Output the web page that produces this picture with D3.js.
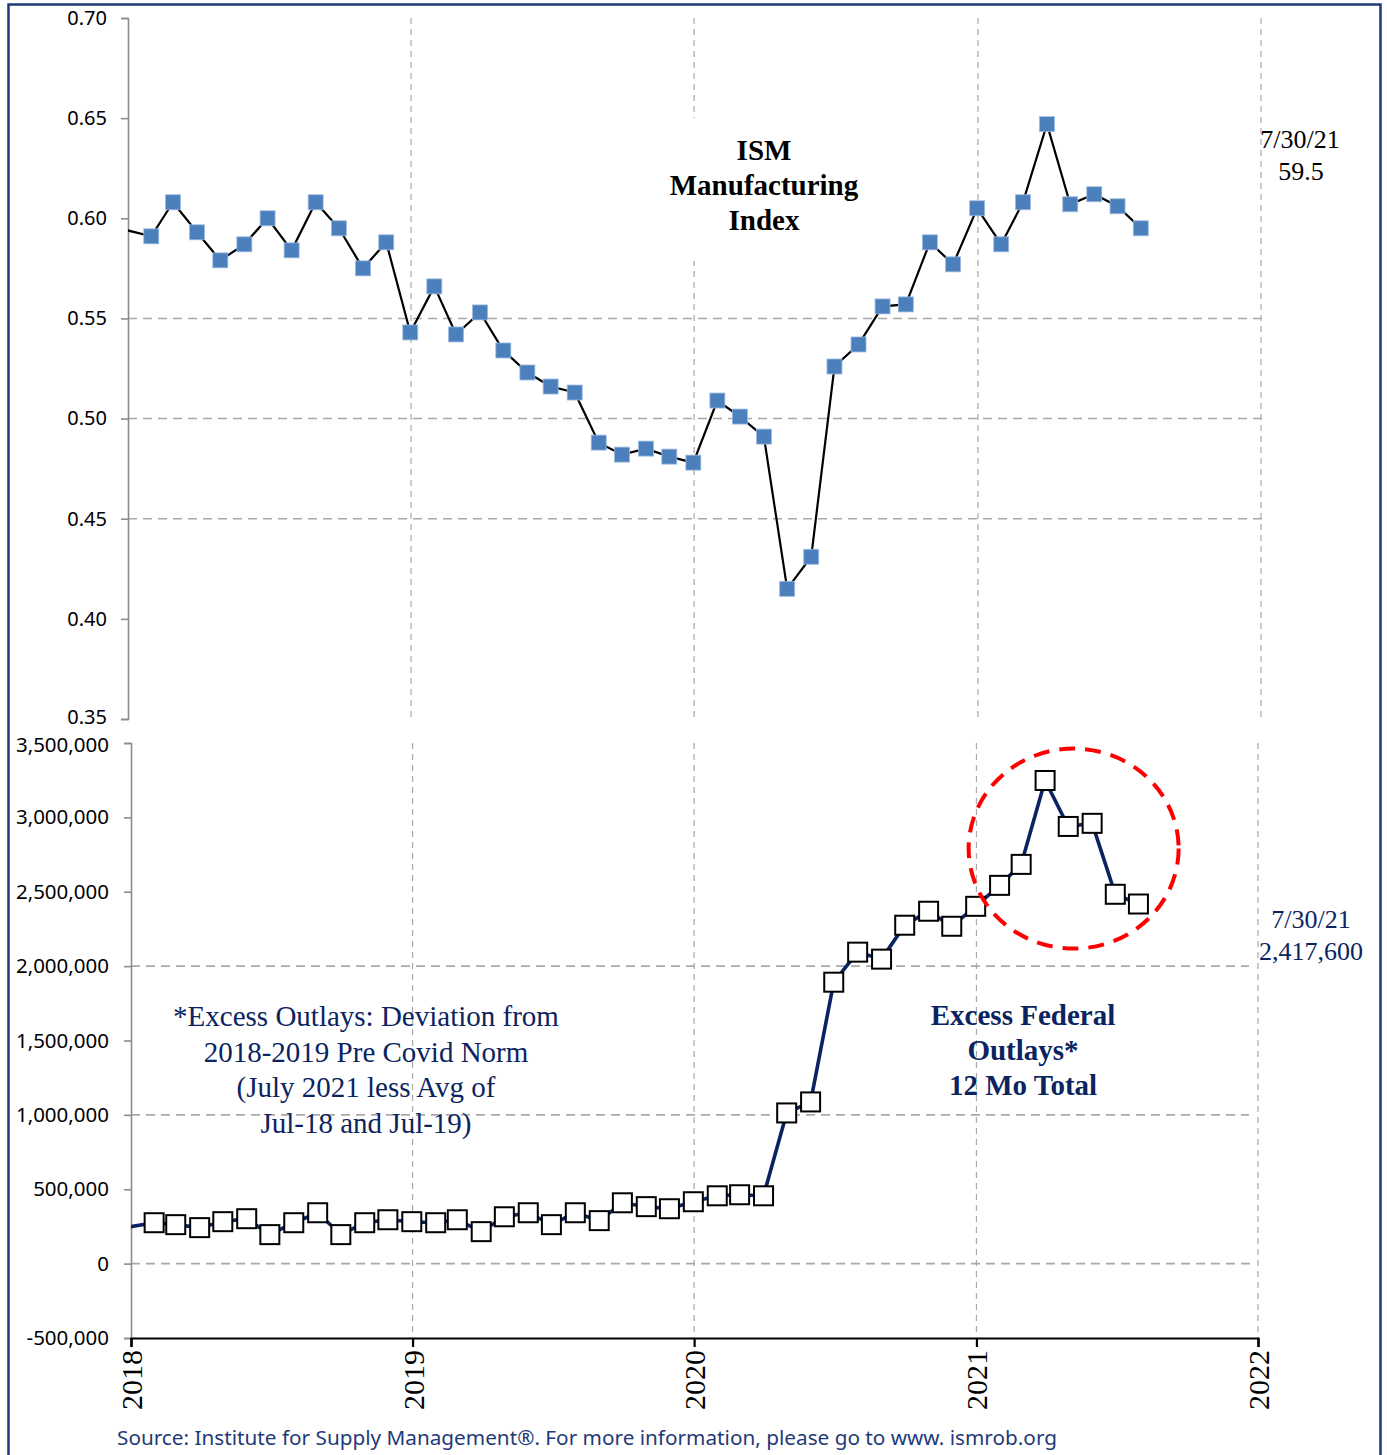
<!DOCTYPE html>
<html>
<head>
<meta charset="utf-8">
<script src="https://cdn.jsdelivr.net/npm/d3@7"></script>
<style>
  html, body { margin: 0; padding: 0; background: #ffffff; }
  svg { display: block; }
</style>
</head>
<body>
<svg id="chart" width="1387" height="1455"></svg>
<script>
// Month-end observation dates (Dec 2017 point only anchors the start of each line)
const months = [
  "2017-12-31",
  "2018-01-31","2018-02-28","2018-03-31","2018-04-30","2018-05-31","2018-06-30",
  "2018-07-31","2018-08-31","2018-09-30","2018-10-31","2018-11-30","2018-12-31",
  "2019-01-31","2019-02-28","2019-03-31","2019-04-30","2019-05-31","2019-06-30",
  "2019-07-31","2019-08-31","2019-09-30","2019-10-31","2019-11-30","2019-12-31",
  "2020-01-31","2020-02-29","2020-03-31","2020-04-30","2020-05-31","2020-06-30",
  "2020-07-31","2020-08-31","2020-09-30","2020-10-31","2020-11-30","2020-12-31",
  "2021-01-31","2021-02-28","2021-03-31","2021-04-30","2021-05-31","2021-06-30",
  "2021-07-30"
];

// ISM Manufacturing Index (as a fraction)
const ismIndex = [
  0.594,
  0.591, 0.608, 0.593, 0.579, 0.587, 0.600, 0.584, 0.608, 0.595, 0.575, 0.588, 0.543,
  0.566, 0.542, 0.553, 0.534, 0.523, 0.516, 0.513, 0.488, 0.482, 0.485, 0.481, 0.478,
  0.509, 0.501, 0.491, 0.415, 0.431, 0.526, 0.537, 0.556, 0.557, 0.588, 0.577, 0.605,
  0.587, 0.608, 0.647, 0.607, 0.612, 0.606, 0.595
];

// Excess federal outlays, 12-month total
const excessOutlays = [
  248000,
  275000, 262000, 242000, 282000, 302000, 195000, 275000, 342000, 195000, 275000, 295000, 282000,
  275000, 295000, 215000, 315000, 342000, 262000, 342000, 289000, 409000, 383000, 369000, 416000,
  456000, 463000, 456000, 1013000, 1087000, 1892000, 2094000, 2047000, 2275000, 2369000, 2268000, 2402000,
  2543000, 2684000, 3248000, 2939000, 2960000, 2483000, 2417600
];

const yearTicks = ["2018-01-01", "2019-01-01", "2020-01-01", "2021-01-01", "2022-01-01"];
const gridYears = ["2019-01-01", "2020-01-01", "2021-01-01", "2022-01-01"];
const ismTicks = [0.35, 0.40, 0.45, 0.50, 0.55, 0.60, 0.65, 0.70];
const ismGrid = [0.45, 0.50, 0.55];
const outlayTicks = [-500000, 0, 500000, 1000000, 1500000, 2000000, 2500000, 3000000, 3500000];
const outlayGrid = [0, 1000000, 2000000];

// Highlighted stretch of the outlays series (centre date, centre value)
const highlight = { date: "2021-05-07", value: 2790000 };

const parse = d3.utcParse("%Y-%m-%d");
const dates = months.map(parse);
const ismData = dates.map((d, i) => ({ date: d, value: ismIndex[i] }));
const outData = dates.map((d, i) => ({ date: d, value: excessOutlays[i] }));

const svg = d3.select("#chart");
const NAVY = "#0b2461";
const GRID = "#a9a9a9";
const SERIF = "'Liberation Serif', 'Times New Roman', serif";
const SANS = "'Noto Sans', 'Open Sans', sans-serif";

const xDomain = [parse("2018-01-01"), parse("2022-01-01")];
const xTop = d3.scaleUtc().domain(xDomain).range([128, 1261]);
const yTop = d3.scaleLinear().domain([0.35, 0.70]).range([719, 18]);
const xBot = d3.scaleUtc().domain(xDomain).range([131, 1258]);
const yBot = d3.scaleLinear().domain([-500000, 3500000]).range([1338, 743]);

const defs = svg.append("defs");
defs.append("clipPath").attr("id", "clipTop")
  .append("rect").attr("x", 128).attr("y", 0).attr("width", 1140).attr("height", 730);
defs.append("clipPath").attr("id", "clipBot")
  .append("rect").attr("x", 131).attr("y", 730).attr("width", 1140).attr("height", 620);

// ---------- Upper panel: ISM ----------
const gTop = svg.append("g");

gTop.selectAll("line.hgrid").data(ismGrid).join("line")
  .attr("x1", xTop.range()[0]).attr("x2", xTop.range()[1] + 4)
  .attr("y1", d => yTop(d)).attr("y2", d => yTop(d))
  .attr("stroke", GRID).attr("stroke-width", 1.6).attr("stroke-dasharray", "9,6");

gTop.selectAll("line.vgrid").data(gridYears.map(parse)).join("line")
  .attr("x1", d => xTop(d)).attr("x2", d => xTop(d))
  .attr("y1", yTop(0.70)).attr("y2", yTop(0.35))
  .attr("stroke", GRID).attr("stroke-width", 1.2).attr("stroke-dasharray", "6,5");

// Title box (opaque, hides the grid behind it)
gTop.append("rect").attr("x", 655).attr("y", 118).attr("width", 220).attr("height", 143).attr("fill", "#fff");
const title = gTop.append("text")
  .attr("font-family", SERIF).attr("font-weight", "bold").attr("font-size", 29)
  .attr("text-anchor", "middle").attr("fill", "#000");
["ISM", "Manufacturing", "Index"].forEach((t, i) =>
  title.append("tspan").attr("x", 764).attr("y", 160 + i * 35).text(t));

const yAxisTop = gTop.append("g").attr("transform", `translate(${xTop.range()[0]},0)`)
  .call(d3.axisLeft(yTop).tickValues(ismTicks).tickFormat(d3.format(".2f")).tickSize(7).tickSizeOuter(7).tickPadding(14));
yAxisTop.selectAll("path, line").attr("stroke", "#8c8c8c").attr("stroke-width", 1.6);
yAxisTop.selectAll("text").attr("font-family", SANS).attr("font-size", 20).attr("fill", "#000")
  .attr("dy", d => d === 0.35 ? "0.2em" : "0.32em");

const lineTop = d3.line().x(d => xTop(d.date)).y(d => yTop(d.value));
gTop.append("path").datum(ismData).attr("clip-path", "url(#clipTop)")
  .attr("d", lineTop).attr("fill", "none").attr("stroke", "#000").attr("stroke-width", 2.2);

const ms = 15;
gTop.selectAll("rect.mk").data(ismData.slice(1)).join("rect")
  .attr("x", d => xTop(d.date) - ms / 2).attr("y", d => yTop(d.value) - ms / 2)
  .attr("width", ms).attr("height", ms)
  .attr("fill", "#4c80bd").attr("stroke", "#9dbbe0").attr("stroke-width", 0.8);

const lastTop = gTop.append("text").attr("font-family", SERIF).attr("font-size", 26)
  .attr("text-anchor", "middle").attr("fill", "#000");
lastTop.append("tspan").attr("x", 1300).attr("y", 148).text("7/30/21");
lastTop.append("tspan").attr("x", 1301).attr("y", 180).text((ismIndex[ismIndex.length - 1] * 100).toFixed(1));

// ---------- Lower panel: Excess outlays ----------
const gBot = svg.append("g");

gBot.selectAll("line.hgrid").data(outlayGrid).join("line")
  .attr("x1", xBot.range()[0]).attr("x2", d => d === 0 ? 1255 : 1249)
  .attr("y1", d => yBot(d)).attr("y2", d => yBot(d))
  .attr("stroke", GRID).attr("stroke-width", 1.6).attr("stroke-dasharray", "9,6");

gBot.selectAll("line.vgrid").data(gridYears.map(parse)).join("line")
  .attr("x1", d => xBot(d)).attr("x2", d => xBot(d))
  .attr("y1", yBot(3500000)).attr("y2", yBot(-500000))
  .attr("stroke", GRID).attr("stroke-width", 1.2).attr("stroke-dasharray", "6,5");

const loc = d3.formatLocale({ decimal: ".", thousands: ",", grouping: [3], currency: ["$", ""], minus: "-" });
const yAxisBot = gBot.append("g").attr("transform", `translate(${xBot.range()[0]},0)`)
  .call(d3.axisLeft(yBot).tickValues(outlayTicks).tickFormat(loc.format(",")).tickSize(7).tickSizeOuter(7).tickPadding(15));
yAxisBot.selectAll("path, line").attr("stroke", "#8c8c8c").attr("stroke-width", 1.6);
yAxisBot.selectAll("text").attr("font-family", SANS).attr("font-size", 20.5).attr("fill", "#000")
  .attr("dy", d => d === 3500000 ? "0.42em" : "0.32em");

const xAxisBot = gBot.append("g").attr("transform", `translate(0,${yBot(-500000)})`)
  .call(d3.axisBottom(xBot).tickValues(yearTicks.map(parse)).tickFormat(d3.utcFormat("%Y")).tickSize(9).tickSizeOuter(9));
xAxisBot.selectAll("path, line").attr("stroke", "#000").attr("stroke-width", 2.2);
xAxisBot.selectAll("text")
  .attr("font-family", SERIF).attr("font-size", 30).attr("fill", "#000")
  .attr("text-anchor", "end").attr("y", 0).attr("x", 0).attr("dy", "0.35em")
  .attr("transform", "translate(0,12) rotate(-90)");

const lineBot = d3.line().x(d => xBot(d.date)).y(d => yBot(d.value));
gBot.append("path").datum(outData).attr("clip-path", "url(#clipBot)")
  .attr("d", lineBot).attr("fill", "none").attr("stroke", NAVY).attr("stroke-width", 3.6);

const bs = 19;
gBot.selectAll("rect.mk").data(outData.slice(1)).join("rect")
  .attr("x", d => xBot(d.date) - bs / 2).attr("y", d => yBot(d.value) - bs / 2)
  .attr("width", bs).attr("height", bs)
  .attr("fill", "#fff").attr("stroke", "#000").attr("stroke-width", 2);

// Dashed red ring around the 2021 peak
gBot.append("ellipse")
  .attr("cx", xBot(parse(highlight.date))).attr("cy", yBot(highlight.value))
  .attr("rx", 105).attr("ry", 100)
  .attr("fill", "none").attr("stroke", "#ff0000").attr("stroke-width", 4)
  .attr("stroke-dasharray", "16,10");

const lastBot = gBot.append("text").attr("font-family", SERIF).attr("font-size", 26)
  .attr("text-anchor", "middle").attr("fill", NAVY);
lastBot.append("tspan").attr("x", 1311).attr("y", 928).text("7/30/21");
lastBot.append("tspan").attr("x", 1311).attr("y", 960)
  .text(loc.format(",")(excessOutlays[excessOutlays.length - 1]));

const excessTitle = gBot.append("text").attr("font-family", SERIF).attr("font-weight", "bold")
  .attr("font-size", 29).attr("text-anchor", "middle").attr("fill", NAVY);
["Excess Federal", "Outlays*", "12 Mo Total"].forEach((t, i) =>
  excessTitle.append("tspan").attr("x", 1023).attr("y", 1025 + i * 35).text(t));

const note = gBot.append("text").attr("font-family", SERIF).attr("font-size", 29)
  .attr("text-anchor", "middle").attr("fill", NAVY);
["*Excess Outlays: Deviation from", "2018-2019 Pre Covid Norm", "(July 2021 less Avg of", "Jul-18 and Jul-19)"]
  .forEach((t, i) => note.append("tspan").attr("x", 366).attr("y", 1026 + i * 35.5).text(t));

// Source line
svg.append("text").attr("x", 117).attr("y", 1445)
  .attr("font-family", SANS).attr("font-size", 20).attr("fill", "#1f3a78")
  .attr("textLength", 940).attr("lengthAdjust", "spacingAndGlyphs")
  .text("Source: Institute for Supply Management®. For more information, please go to www. ismrob.org");

// Outer frame
svg.append("rect").attr("x", 8.5).attr("y", 4.5).attr("width", 1372).attr("height", 1470)
  .attr("fill", "none").attr("stroke", "#1f3a78").attr("stroke-width", 2.5);
</script>
</body>
</html>
